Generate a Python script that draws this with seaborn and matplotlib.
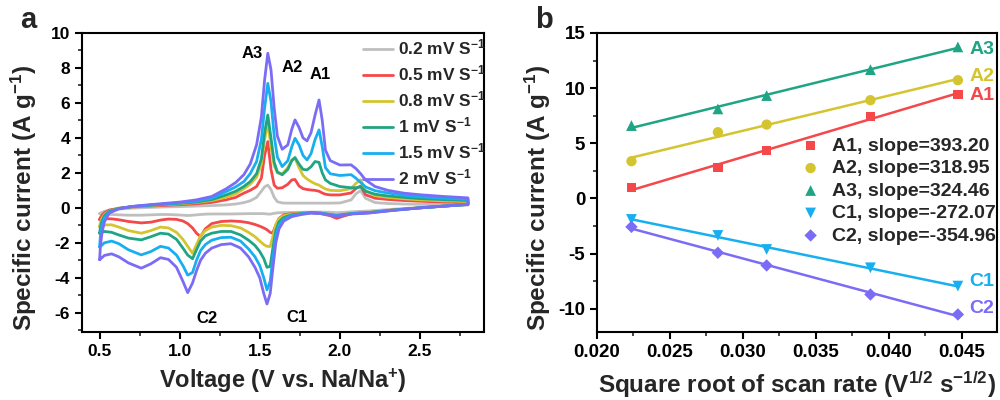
import matplotlib
matplotlib.use("Agg")
import matplotlib.pyplot as plt
import seaborn as sns
import numpy as np
from matplotlib.ticker import MultipleLocator, FormatStrFormatter

sns.set_theme(style="ticks")
plt.rcParams["font.family"] = ["Liberation Sans", "DejaVu Sans"]
plt.rcParams["font.weight"] = "bold"
plt.rcParams["axes.labelweight"] = "bold"
plt.rcParams["mathtext.default"] = "regular"
plt.rcParams["axes.unicode_minus"] = False

# ---------------- (a) cyclic voltammograms ----------------
scan_labels = ["0.2 mV S$^{-1}$", "0.5 mV S$^{-1}$", "0.8 mV S$^{-1}$",
               "1 mV S$^{-1}$", "1.5 mV S$^{-1}$", "2 mV S$^{-1}$"]
scan_colors = ["#bfbfbf", "#f4484a", "#d4c530", "#1fa584", "#17aff0", "#7b6cf6"]

# oxidation sweep (0.5 V -> 2.8 V)
v_anodic = [0.50, 0.505, 0.515, 0.53, 0.56, 0.62, 0.70, 0.80, 0.90, 1.00, 1.10, 1.20,
            1.29, 1.35, 1.40, 1.44, 1.48, 1.51, 1.53, 1.55, 1.57, 1.59, 1.61, 1.64,
            1.675, 1.70, 1.72, 1.745, 1.77, 1.795, 1.82, 1.845, 1.87, 1.89, 1.91, 1.94,
            2.00, 2.07, 2.10, 2.13, 2.16, 2.22, 2.30, 2.40, 2.50, 2.65, 2.80]
i_anodic_02 = [-0.33, -0.30, -0.26, -0.20, -0.13, -0.07, -0.02, 0.02, 0.05, 0.07, 0.10, 0.13,
               0.17, 0.22, 0.30, 0.40, 0.60, 0.95, 1.20, 1.30, 1.05, 0.60, 0.35, 0.28,
               0.27, 0.27, 0.27, 0.27, 0.27, 0.27, 0.27, 0.27, 0.27, 0.27, 0.27, 0.27,
               0.28, 0.45, 0.80, 0.99, 0.55, 0.30, 0.25, 0.22, 0.20, 0.18, 0.17]
i_anodic_05 = [-0.67, -0.55, -0.42, -0.28, -0.13, -0.02, 0.05, 0.10, 0.14, 0.18, 0.23, 0.31,
               0.46, 0.60, 0.84, 1.00, 1.22, 1.70, 3.00, 3.79, 2.20, 1.30, 1.12, 1.15,
               1.35, 1.60, 1.62, 1.25, 1.10, 1.05, 1.02, 1.00, 0.95, 0.85, 0.78, 0.74,
               0.74, 0.85, 1.10, 1.25, 0.75, 0.55, 0.48, 0.42, 0.38, 0.33, 0.30]
i_anodic_08 = [-1.07, -0.85, -0.60, -0.38, -0.18, -0.03, 0.06, 0.12, 0.18, 0.23, 0.30, 0.42,
               0.61, 0.80, 1.09, 1.35, 1.75, 2.50, 3.90, 4.84, 3.50, 2.40, 2.00, 1.95,
               2.30, 2.75, 2.84, 2.30, 1.85, 1.65, 1.50, 1.38, 1.30, 1.18, 1.08, 1.00,
               0.98, 1.10, 1.40, 1.60, 1.00, 0.70, 0.60, 0.52, 0.46, 0.40, 0.36]
i_anodic_1 = [-1.45, -1.10, -0.75, -0.45, -0.20, -0.03, 0.07, 0.14, 0.20, 0.26, 0.33, 0.47,
              0.74, 0.95, 1.22, 1.50, 1.95, 2.80, 4.30, 5.31, 4.00, 2.60, 2.05, 1.89,
              2.20, 2.70, 2.88, 2.50, 2.20, 2.17, 2.35, 2.65, 2.60, 2.00, 1.60, 1.40,
              1.22, 1.15, 1.15, 1.20, 0.95, 0.78, 0.68, 0.60, 0.53, 0.47, 0.42]
i_anodic_15 = [-2.20, -1.60, -1.00, -0.60, -0.25, -0.05, 0.07, 0.15, 0.22, 0.29, 0.38, 0.55,
               0.93, 1.20, 1.50, 1.95, 2.65, 3.90, 5.70, 7.12, 6.10, 4.10, 2.90, 2.36,
               2.70, 3.50, 3.98, 3.60, 3.00, 2.74, 3.10, 3.90, 4.46, 3.50, 2.30, 1.95,
               1.85, 1.90, 1.70, 1.45, 1.20, 0.98, 0.85, 0.72, 0.63, 0.55, 0.48]
i_anodic_2 = [-2.95, -2.20, -1.40, -0.80, -0.30, -0.05, 0.08, 0.17, 0.25, 0.33, 0.45, 0.65,
              1.09, 1.45, 1.89, 2.50, 3.60, 5.20, 7.30, 8.84, 7.90, 5.70, 4.10, 3.35,
              3.60, 4.50, 5.03, 4.60, 4.00, 3.83, 4.30, 5.30, 6.17, 5.00, 3.30, 2.70,
              2.45, 2.46, 2.25, 1.95, 1.60, 1.22, 1.00, 0.84, 0.75, 0.65, 0.57]

# reduction sweep, listed from 0.5 V up to 2.8 V (traversed in reverse)
v_cathodic = [0.50, 0.53, 0.575, 0.62, 0.68, 0.76, 0.82, 0.88, 0.93, 0.98, 1.02, 1.05,
              1.08, 1.105, 1.13, 1.16, 1.20, 1.26, 1.32, 1.38, 1.43, 1.47, 1.50, 1.525,
              1.545, 1.565, 1.58, 1.60, 1.62, 1.65, 1.70, 1.76, 1.82, 1.88, 1.94, 1.98,
              2.02, 2.08, 2.18, 2.33, 2.50, 2.65, 2.80]
i_cathodic_02 = [-0.33, -0.36, -0.38, -0.40, -0.42, -0.42, -0.40, -0.38, -0.38, -0.40, -0.42, -0.44,
                 -0.42, -0.40, -0.38, -0.36, -0.35, -0.35, -0.35, -0.34, -0.33, -0.33, -0.33, -0.33,
                 -0.35, -0.36, -0.33, -0.30, -0.28, -0.27, -0.26, -0.25, -0.24, -0.24, -0.25, -0.28,
                 -0.26, -0.22, -0.18, -0.08, 0.02, 0.10, 0.17]
i_cathodic_05 = [-0.67, -0.62, -0.63, -0.68, -0.78, -0.86, -0.82, -0.70, -0.64, -0.66, -0.75, -0.90,
                 -1.15, -1.45, -1.64, -1.20, -0.90, -0.78, -0.75, -0.78, -0.85, -0.95, -1.05, -1.15,
                 -1.25, -1.40, -1.45, -1.00, -0.60, -0.40, -0.33, -0.30, -0.28, -0.33, -0.45, -0.60,
                 -0.48, -0.32, -0.27, -0.12, 0.00, 0.10, 0.20]
i_cathodic_08 = [-1.07, -0.98, -0.97, -1.10, -1.30, -1.45, -1.30, -1.10, -1.15, -1.40, -1.80, -2.20,
                 -2.60, -2.10, -1.60, -1.30, -1.10, -1.00, -1.02, -1.15, -1.40, -1.65, -1.90, -2.10,
                 -2.20, -2.21, -1.70, -0.95, -0.62, -0.45, -0.36, -0.30, -0.26, -0.30, -0.38, -0.43,
                 -0.38, -0.31, -0.26, -0.12, 0.00, 0.10, 0.20]
i_cathodic_1 = [-1.45, -1.35, -1.40, -1.55, -1.73, -1.83, -1.65, -1.45, -1.50, -1.80, -2.30, -2.70,
                -2.91, -2.40, -1.90, -1.60, -1.45, -1.35, -1.35, -1.55, -1.85, -2.15, -2.50, -2.90,
                -3.40, -3.35, -2.40, -1.30, -0.80, -0.55, -0.40, -0.32, -0.27, -0.30, -0.38, -0.43,
                -0.38, -0.32, -0.27, -0.13, 0.00, 0.10, 0.20]
i_cathodic_15 = [-2.25, -2.00, -1.90, -2.05, -2.40, -2.69, -2.50, -2.20, -2.30, -2.70, -3.30, -3.85,
                 -3.70, -3.00, -2.45, -2.10, -1.85, -1.70, -1.68, -1.90, -2.35, -2.80, -3.30, -4.00,
                 -4.69, -4.20, -3.00, -1.60, -1.00, -0.65, -0.45, -0.35, -0.28, -0.30, -0.40, -0.45,
                 -0.40, -0.33, -0.28, -0.14, 0.00, 0.10, 0.20]
i_cathodic_2 = [-2.97, -2.72, -2.63, -2.80, -3.15, -3.45, -3.20, -2.85, -2.95, -3.40, -4.20, -4.85,
                -4.30, -3.60, -3.00, -2.60, -2.30, -2.10, -2.05, -2.30, -2.80, -3.40, -4.00, -4.90,
                -5.50, -4.90, -3.60, -2.00, -1.20, -0.75, -0.50, -0.38, -0.30, -0.32, -0.42, -0.48,
                -0.42, -0.35, -0.30, -0.15, 0.00, 0.10, 0.20]

anodic_sets = [i_anodic_02, i_anodic_05, i_anodic_08, i_anodic_1, i_anodic_15, i_anodic_2]
cathodic_sets = [i_cathodic_02, i_cathodic_05, i_cathodic_08, i_cathodic_1, i_cathodic_15, i_cathodic_2]

peak_names = ["A3", "A2", "A1", "C2", "C1"]
peak_label_pos = [(1.45, 8.8), (1.70, 8.0), (1.877, 7.6), (1.169, -6.3), (1.73, -6.25)]

# ---------------- (b) peak current vs sqrt(scan rate) ----------------
sqrt_rate = [0.02236, 0.02828, 0.03162, 0.03873, 0.04472]
fit_names = ["A1", "A2", "A3", "C1", "C2"]
fit_slopes = [393.20, 318.95, 324.46, -272.07, -354.96]
peak_A1 = [0.97, 2.78, 4.35, 7.46, 9.42]
peak_A2 = [3.38, 6.01, 6.70, 8.91, 10.72]
peak_A3 = [6.61, 8.12, 9.33, 11.68, 13.74]
peak_C1 = [-1.90, -3.35, -4.62, -6.28, -7.94]
peak_C2 = [-2.57, -4.92, -6.07, -8.70, -10.51]
fit_colors = ["#f4484a", "#d4c530", "#1fa584", "#17aff0", "#7b6cf6"]
fit_markers = ["s", "o", "^", "v", "D"]
fit_marker_sizes = [45, 55, 60, 60, 40]
end_label_y = [9.3, 11.1, 13.5, -7.5, -10.0]

fig = plt.figure(figsize=(10, 4), dpi=100)
ax1 = fig.add_axes([0.082, 0.17, 0.402, 0.7475])
ax2 = fig.add_axes([0.597, 0.17, 0.400, 0.7475])

# panel a
for lab, col, ia, ic in zip(scan_labels, scan_colors, anodic_sets, cathodic_sets):
    vv = v_anodic + v_cathodic[::-1]
    ii = ia + ic[::-1]
    sns.lineplot(x=vv, y=ii, sort=False, estimator=None, color=col, lw=2,
                 label=lab, ax=ax1)

for name, (px, py) in zip(peak_names, peak_label_pos):
    ax1.text(px, py, name, fontsize=12, fontweight="bold", ha="center", va="center",
             color="black")

ax1.set_xlim(0.39, 2.9)
ax1.set_ylim(-7.1, 10)
ax1.xaxis.set_major_locator(MultipleLocator(0.5))
ax1.xaxis.set_minor_locator(MultipleLocator(0.25))
ax1.yaxis.set_major_locator(MultipleLocator(2))
ax1.yaxis.set_minor_locator(MultipleLocator(1))
ax1.xaxis.set_major_formatter(FormatStrFormatter("%.1f"))
ax1.set_xlabel("Voltage (V vs. Na/Na$^{+}$)", fontsize=17)
ax1.set_ylabel("Specific current (A g$^{-1}$)", fontsize=17.5)
leg1 = ax1.legend(loc="upper left", bbox_to_anchor=(0.69, 0.995), frameon=False,
                  fontsize=12.5, handlelength=1.75, handletextpad=0.3,
                  labelspacing=0.35, borderaxespad=0, borderpad=0.2)
for t in leg1.get_texts():
    t.set_fontweight("bold")

# panel b
peak_sets = [peak_A1, peak_A2, peak_A3, peak_C1, peak_C2]
xs = np.array(sqrt_rate)
for name, slope, ys, col, mk, ms, ly in zip(fit_names, fit_slopes, peak_sets, fit_colors,
                                             fit_markers, fit_marker_sizes, end_label_y):
    ys = np.array(ys)
    intercept = ys.mean() - slope * xs.mean()
    line_x = [xs[0], xs[-1]]
    line_y = [intercept + slope * xs[0], intercept + slope * xs[-1]]
    sns.lineplot(x=line_x, y=line_y, color=col, lw=1.8, legend=False, ax=ax2)
    sns.scatterplot(x=xs, y=ys, marker=mk, s=ms, color=col, edgecolor="none",
                    label=f"{name}, slope={slope:.2f}", ax=ax2, zorder=3)
    ax2.text(0.0455, ly, name, color=col, fontsize=14, fontweight="bold",
             ha="left", va="center")

ax2.set_xlim(0.020, 0.0474)
ax2.set_ylim(-12.1, 15)
ax2.xaxis.set_major_locator(MultipleLocator(0.005))
ax2.xaxis.set_minor_locator(MultipleLocator(0.0025))
ax2.yaxis.set_major_locator(MultipleLocator(5))
ax2.yaxis.set_minor_locator(MultipleLocator(2.5))
ax2.xaxis.set_major_formatter(FormatStrFormatter("%.3f"))
ax2.set_xlabel("Square root of scan rate (V$^{1/2}$ s$^{-1/2}$)", fontsize=17.5)
ax2.set_ylabel("Specific current (A g$^{-1}$)", fontsize=17.5)
h, l = ax2.get_legend_handles_labels()
leg2 = ax2.legend(h, l, loc="upper left", bbox_to_anchor=(0.50, 0.665), frameon=False,
                  fontsize=14, handlelength=1.0, handletextpad=0.6,
                  labelspacing=0.25, borderaxespad=0, borderpad=0.2)
for t in leg2.get_texts():
    t.set_fontweight("bold")

for ax, tfs in ((ax1, 12.5), (ax2, 13.5)):
    for sp in ax.spines.values():
        sp.set_visible(True)
        sp.set_linewidth(1.5)
        sp.set_color("black")
    ax.tick_params(which="major", direction="out", length=5, width=1.5,
                   labelsize=tfs, colors="black", top=False, right=False)
    ax.tick_params(which="minor", direction="out", length=3, width=1.2,
                   top=False, right=False)
    for lbl in ax.get_xticklabels() + ax.get_yticklabels():
        lbl.set_fontweight("bold")

ax1.yaxis.set_label_coords(-0.107, 0.45)
ax2.yaxis.set_label_coords(-0.11, 0.45)
ax1.xaxis.set_label_coords(0.5, -0.115)
ax2.xaxis.set_label_coords(0.5, -0.125)

fig.text(0.028, 0.95, "a", fontsize=21, fontweight="bold", ha="center", va="center")
fig.text(0.544, 0.95, "b", fontsize=21, fontweight="bold", ha="center", va="center")

fig.savefig("out.png", dpi=100, facecolor="white")
